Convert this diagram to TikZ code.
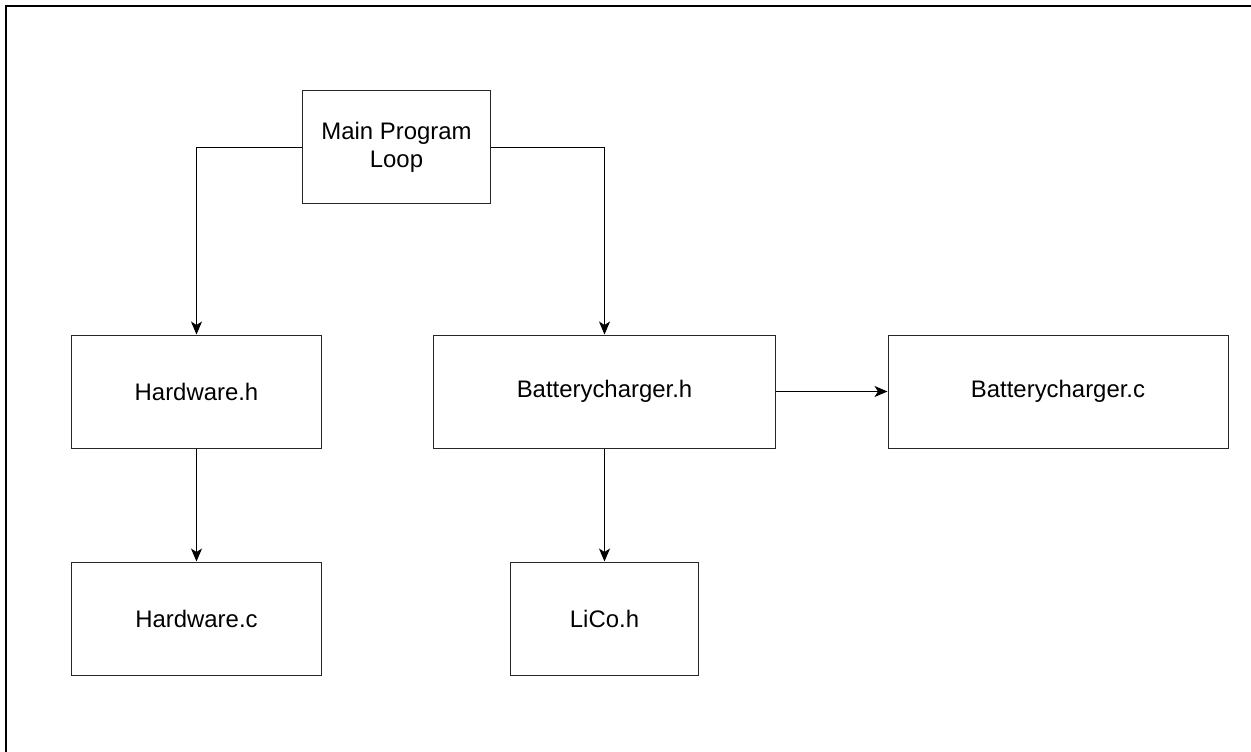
\documentclass[tikz,border=0pt]{standalone}
\usepackage{fontspec}
\setmainfont{Liberation Sans}
\usetikzlibrary{arrows.meta}
\begin{document}
\begin{tikzpicture}[x=1bp,y=-1bp,
  box/.style={draw=black!85, line width=1bp, rectangle, minimum height=113bp, inner sep=0pt, align=center, font=\fontsize{24}{28}\selectfont},
  conn/.style={draw=black, line width=1bp, -{Stealth[length=13bp,width=11bp,inset=3.5bp]}}]
\useasboundingbox (0,0) rectangle (1251,752);
\draw[line width=2.5bp] (6,752) -- (6,6) -- (1251,6);
\node[box, minimum width=188bp] (main) at (396.5,147) {Main Program\\Loop};
\node[box, minimum width=249bp] (hwh) at (196.5,391.5) {Hardware.h};
\node[box, minimum width=342bp] (bch) at (604.5,391.5) {Batterycharger.h};
\node[box, minimum width=340bp] (bcc) at (1058,391.5) {Batterycharger.c};
\node[box, minimum width=249bp] (hwc) at (196.5,618.5) {Hardware.c};
\node[box, minimum width=188bp] (lico) at (604.5,618.5) {LiCo.h};
\draw[conn] (main.west) -| (hwh.north);
\draw[conn] (main.east) -| (bch.north);
\draw[conn] (bch.east) -- (bcc.west);
\draw[conn] (hwh.south) -- (hwc.north);
\draw[conn] (bch.south) -- (lico.north);
\end{tikzpicture}
\end{document}
